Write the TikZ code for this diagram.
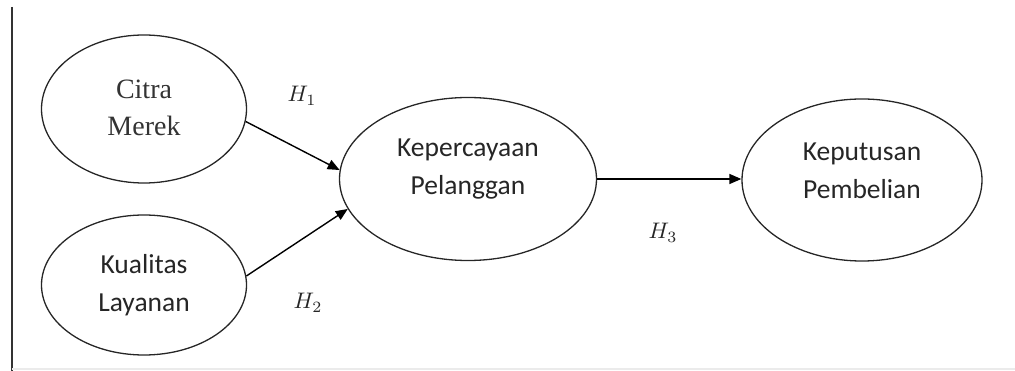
\documentclass[tikz,border=0pt]{standalone}
\usepackage{graphicx}
\usepackage{fontspec}
\setmainfont{Liberation Serif}
\newfontfamily\calib{Carlito}
\usetikzlibrary{shapes.geometric,arrows.meta}
\newcommand{\hypo}[1]{\scalebox{2.25}{$H_{#1}$}}
\begin{document}
\begin{tikzpicture}[x=1pt,y=-1pt,
  ell/.style={draw=black!85,line width=1.3pt,ellipse,inner sep=0pt},
  seriftxt/.style={align=center,font=\fontsize{28}{37}\selectfont,text=black!80},
  sanstxt/.style={align=center,font=\calib\fontsize{27.5}{38}\selectfont,text=black!85},
  hyp/.style={inner sep=0pt,text=black!85},
  conn/.style={line width=1.4pt,-{Triangle[length=12pt,width=10pt]}}]
\useasboundingbox (0,0) rectangle (1015,371);
% frame
\draw[black!80,line width=2.5pt] (12,7) -- (12,371);
\draw[black!8,line width=1pt] (12,369) -- (1015,369);
% ellipses
\node[ell,minimum width=205pt,minimum height=148pt] (cm) at (144,109) {};
\node[ell,minimum width=205pt,minimum height=140pt] (kl) at (144,285) {};
\node[ell,minimum width=257pt,minimum height=163pt] (kp) at (468,179) {};
\node[ell,minimum width=240pt,minimum height=162pt] (kb) at (862,180) {};
% texts
\node[seriftxt] (tcm) at (144,108) {Citra\\Merek};
\node[sanstxt] (tkl) at (144,285) {Kualitas\\Layanan};
\node[sanstxt] (tkp) at (468,169) {Kepercayaan\\Pelanggan};
\node[sanstxt] (tkb) at (862,171) {Keputusan\\Pembelian};
% connectors
\draw[conn] (cm.-7) -- (kp.176);
\draw[conn] (kl.5) -- (kp.194);
\draw[conn] (kp.east) -- (kp.east -| kb.west);
% hypothesis labels
\node[hyp] (h1) at (302,96) {\hypo{1}};
\node[hyp] (h2) at (308,303) {\hypo{2}};
\node[hyp] (h3) at (663,233) {\hypo{3}};
\end{tikzpicture}
\end{document}
